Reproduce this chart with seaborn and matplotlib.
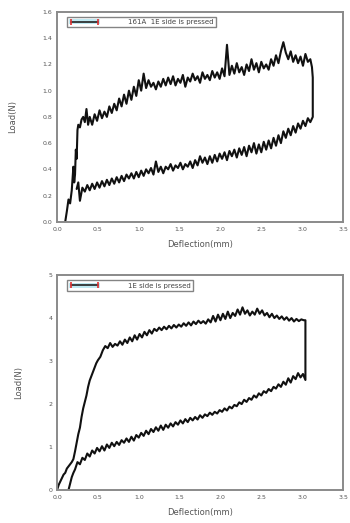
import seaborn as sns
import matplotlib.pyplot as plt
import pandas as pd
from matplotlib.patches import Patch
from matplotlib.lines import Line2D
from matplotlib.legend_handler import HandlerTuple
from matplotlib.ticker import MultipleLocator, FormatStrFormatter

# ---------------------------
# Top panel: loading branch
top_load_x = [0.10, 0.12, 0.14, 0.16, 0.18, 0.20, 0.21, 0.22, 0.23, 0.24, 0.25, 0.26, 0.28,
              0.30, 0.32, 0.34, 0.36, 0.38,
              0.40, 0.43, 0.46, 0.49, 0.52, 0.55, 0.58, 0.61, 0.64, 0.67, 0.70, 0.73, 0.76,
              0.79, 0.82, 0.85, 0.88, 0.91, 0.94, 0.97, 1.00, 1.03, 1.06, 1.09, 1.12, 1.15,
              1.18, 1.21, 1.24, 1.27, 1.30, 1.33, 1.36, 1.39, 1.42, 1.45, 1.48, 1.51, 1.54,
              1.57, 1.60, 1.63, 1.66, 1.69, 1.72, 1.75, 1.78, 1.81, 1.84, 1.87, 1.90, 1.93,
              1.96, 1.99, 2.02, 2.05, 2.08, 2.11, 2.14, 2.17, 2.20, 2.23, 2.26, 2.29, 2.32,
              2.35, 2.38, 2.41, 2.44, 2.47, 2.50, 2.53, 2.56, 2.59, 2.62, 2.65, 2.68, 2.71,
              2.74, 2.77, 2.80, 2.83, 2.86, 2.89, 2.92, 2.95, 2.98, 3.01, 3.04, 3.07, 3.10,
              3.12, 3.13]
top_load_y = [0.00, 0.08, 0.17, 0.14, 0.24, 0.42, 0.30, 0.36, 0.55, 0.48, 0.70, 0.74, 0.72,
              0.78, 0.80, 0.76, 0.86, 0.74,
              0.80, 0.74, 0.82, 0.77, 0.85, 0.79, 0.84, 0.80, 0.88, 0.83, 0.90, 0.85, 0.94,
              0.88, 0.97, 0.90, 1.00, 0.93, 1.03, 0.96, 1.08, 1.00, 1.13, 1.02, 1.08, 1.03,
              1.06, 1.01, 1.07, 1.03, 1.09, 1.04, 1.10, 1.05, 1.11, 1.04, 1.09, 1.06, 1.12,
              1.03, 1.10, 1.07, 1.13, 1.08, 1.11, 1.06, 1.14, 1.09, 1.12, 1.08, 1.15, 1.10,
              1.14, 1.09, 1.17, 1.11, 1.35, 1.12, 1.19, 1.13, 1.21, 1.14, 1.18, 1.12, 1.20,
              1.15, 1.24, 1.16, 1.21, 1.14, 1.22, 1.17, 1.20, 1.16, 1.24, 1.19, 1.27, 1.21,
              1.30, 1.37, 1.29, 1.24, 1.30, 1.22, 1.27, 1.21, 1.26, 1.19, 1.28, 1.22, 1.24,
              1.18, 1.10]

# Top panel: unloading branch
top_unload_x = [3.13, 3.10, 3.07, 3.04, 3.01, 2.98, 2.95, 2.92, 2.89, 2.86, 2.83, 2.80, 2.77,
                2.74, 2.71, 2.68, 2.65, 2.62, 2.59, 2.56, 2.53, 2.50, 2.47, 2.44, 2.41, 2.38,
                2.35, 2.32, 2.29, 2.26, 2.23, 2.20, 2.17, 2.14, 2.11, 2.08, 2.05, 2.02, 1.99,
                1.96, 1.93, 1.90, 1.87, 1.84, 1.81, 1.78, 1.75, 1.72, 1.69, 1.66, 1.63, 1.60,
                1.57, 1.54, 1.51, 1.48, 1.45, 1.42, 1.39, 1.36, 1.33, 1.30, 1.27, 1.24, 1.21,
                1.18, 1.15, 1.12, 1.09, 1.06, 1.03, 1.00, 0.97, 0.94, 0.91, 0.88, 0.85, 0.82,
                0.79, 0.76, 0.73, 0.70, 0.67, 0.64, 0.61, 0.58, 0.55, 0.52, 0.49, 0.46, 0.43,
                0.40, 0.37, 0.34, 0.31, 0.28, 0.26, 0.24]
top_unload_y = [0.80, 0.76, 0.79, 0.73, 0.77, 0.71, 0.75, 0.68, 0.73, 0.66, 0.71, 0.64, 0.69,
                0.60, 0.66, 0.58, 0.64, 0.56, 0.62, 0.55, 0.61, 0.53, 0.59, 0.52, 0.60, 0.53,
                0.58, 0.50, 0.57, 0.51, 0.56, 0.49, 0.55, 0.50, 0.54, 0.47, 0.53, 0.48, 0.52,
                0.46, 0.51, 0.45, 0.50, 0.44, 0.49, 0.45, 0.50, 0.43, 0.47, 0.41, 0.46, 0.42,
                0.44, 0.40, 0.45, 0.41, 0.43, 0.39, 0.44, 0.40, 0.42, 0.37, 0.42, 0.38, 0.46,
                0.36, 0.41, 0.37, 0.40, 0.35, 0.39, 0.34, 0.38, 0.33, 0.37, 0.33, 0.36, 0.31,
                0.35, 0.30, 0.34, 0.29, 0.33, 0.28, 0.32, 0.27, 0.31, 0.26, 0.30, 0.25, 0.29,
                0.24, 0.28, 0.23, 0.26, 0.16, 0.30, 0.25]

# ---------------------------
# Bottom panel: loading branch
bot_load_x = [0.00, 0.02, 0.04, 0.06, 0.08, 0.10, 0.12, 0.14, 0.16, 0.18, 0.20, 0.22, 0.24,
              0.26, 0.28, 0.30, 0.32, 0.34, 0.36, 0.38, 0.40, 0.42, 0.44, 0.46, 0.48, 0.50,
              0.53, 0.56, 0.59, 0.62, 0.65, 0.68, 0.71, 0.74, 0.77, 0.80, 0.83, 0.86, 0.89,
              0.92, 0.95, 0.98, 1.01, 1.04, 1.07, 1.10, 1.13, 1.16, 1.19, 1.22, 1.25, 1.28,
              1.31, 1.34, 1.37, 1.40, 1.43, 1.46, 1.49, 1.52, 1.55, 1.58, 1.61, 1.64, 1.67,
              1.70, 1.73, 1.76, 1.79, 1.82, 1.85, 1.88, 1.91, 1.94, 1.97, 2.00, 2.03, 2.06,
              2.09, 2.12, 2.15, 2.18, 2.21, 2.24, 2.27, 2.30, 2.33, 2.36, 2.39, 2.42, 2.45,
              2.48, 2.51, 2.54, 2.57, 2.60, 2.63, 2.66, 2.69, 2.72, 2.75, 2.78, 2.81, 2.84,
              2.87, 2.90, 2.93, 2.96, 2.99, 3.02, 3.04]
bot_load_y = [0.00, 0.12, 0.20, 0.28, 0.36, 0.40, 0.50, 0.55, 0.60, 0.65, 0.72, 0.90, 1.10,
              1.30, 1.45, 1.70, 1.90, 2.05, 2.20, 2.40, 2.55, 2.65, 2.75, 2.85, 2.95, 3.02,
              3.10, 3.25, 3.35, 3.30, 3.42, 3.33, 3.40, 3.36, 3.46, 3.38, 3.50, 3.42, 3.55,
              3.46, 3.60, 3.50, 3.63, 3.55, 3.68, 3.60, 3.72, 3.64, 3.75, 3.70, 3.78, 3.72,
              3.80, 3.74, 3.82, 3.76, 3.84, 3.78, 3.85, 3.80, 3.88, 3.82, 3.90, 3.83, 3.92,
              3.86, 3.94, 3.88, 3.93, 3.87, 3.97, 3.90, 4.05, 3.92, 4.08, 3.95, 4.10, 3.98,
              4.15, 4.00, 4.12, 4.05, 4.20, 4.08, 4.25, 4.10, 4.18, 4.06, 4.15, 4.08, 4.22,
              4.10, 4.18, 4.06, 4.12, 4.02, 4.10, 4.00, 4.06, 3.98, 4.04, 3.96, 4.02, 3.94,
              4.00, 3.92, 3.98, 3.93, 3.97, 3.95, 3.95]

# Bottom panel: unloading branch
bot_unload_x = [3.04, 3.01, 2.98, 2.95, 2.92, 2.89, 2.86, 2.83, 2.80, 2.77, 2.74, 2.71, 2.68,
                2.65, 2.62, 2.59, 2.56, 2.53, 2.50, 2.47, 2.44, 2.41, 2.38, 2.35, 2.32, 2.29,
                2.26, 2.23, 2.20, 2.17, 2.14, 2.11, 2.08, 2.05, 2.02, 1.99, 1.96, 1.93, 1.90,
                1.87, 1.84, 1.81, 1.78, 1.75, 1.72, 1.69, 1.66, 1.63, 1.60, 1.57, 1.54, 1.51,
                1.48, 1.45, 1.42, 1.39, 1.36, 1.33, 1.30, 1.27, 1.24, 1.21, 1.18, 1.15, 1.12,
                1.09, 1.06, 1.03, 1.00, 0.97, 0.94, 0.91, 0.88, 0.85, 0.82, 0.79, 0.76, 0.73,
                0.70, 0.67, 0.64, 0.61, 0.58, 0.55, 0.52, 0.49, 0.46, 0.43, 0.40, 0.37, 0.34,
                0.31, 0.28, 0.25, 0.22, 0.20, 0.18, 0.16, 0.14]
bot_unload_y = [2.56, 2.70, 2.62, 2.72, 2.58, 2.65, 2.50, 2.60, 2.45, 2.52, 2.40, 2.46, 2.36,
                2.40, 2.30, 2.35, 2.26, 2.30, 2.20, 2.25, 2.15, 2.20, 2.10, 2.14, 2.05, 2.10,
                2.00, 2.04, 1.95, 1.98, 1.90, 1.94, 1.85, 1.90, 1.82, 1.86, 1.78, 1.82, 1.75,
                1.80, 1.72, 1.76, 1.68, 1.74, 1.64, 1.70, 1.62, 1.68, 1.58, 1.65, 1.55, 1.62,
                1.52, 1.58, 1.48, 1.55, 1.45, 1.52, 1.40, 1.50, 1.38, 1.46, 1.35, 1.42, 1.30,
                1.38, 1.26, 1.33, 1.22, 1.28, 1.15, 1.24, 1.12, 1.20, 1.10, 1.16, 1.05, 1.12,
                1.02, 1.10, 0.98, 1.06, 0.92, 1.02, 0.90, 0.98, 0.85, 0.92, 0.78, 0.85, 0.70,
                0.75, 0.60, 0.65, 0.48, 0.40, 0.30, 0.15, 0.00]

top_label = "161A  1E side is pressed"
bot_label = "1E side is pressed"

top_df = pd.DataFrame({'x': top_load_x + top_unload_x, 'y': top_load_y + top_unload_y})
bot_df = pd.DataFrame({'x': bot_load_x + bot_unload_x, 'y': bot_load_y + bot_unload_y})

sns.set_style("white")
plt.rcParams['font.family'] = ['DejaVu Sans']

fig = plt.figure(figsize=(3.5, 5.23), dpi=100)
ax1 = fig.add_axes([0.163, 0.576, 0.817, 0.401])
ax2 = fig.add_axes([0.163, 0.063, 0.817, 0.411])

edge = '#8a8a8a'


def style(ax, df, ymax, ystep, yfmt, label):
    sns.lineplot(data=df, x='x', y='y', sort=False, estimator=None,
                 color='#111111', linewidth=1.5, ax=ax)
    ax.set_xlim(0, 3.5)
    ax.set_ylim(0, ymax)
    ax.xaxis.set_major_locator(MultipleLocator(0.5))
    ax.xaxis.set_minor_locator(MultipleLocator(0.25))
    ax.yaxis.set_major_locator(MultipleLocator(ystep))
    ax.yaxis.set_minor_locator(MultipleLocator(ystep / 2))
    ax.xaxis.set_major_formatter(FormatStrFormatter('%.1f'))
    ax.yaxis.set_major_formatter(FormatStrFormatter(yfmt))
    ax.tick_params(which='both', direction='in', colors=edge, labelcolor='#555555',
                   labelsize=4.5, length=3, width=0.8)
    ax.tick_params(which='minor', length=1.8)
    for s in ax.spines.values():
        s.set_color(edge)
        s.set_linewidth(1.4)
    ax.set_xlabel("Deflection(mm)", fontsize=6, color='#555555', labelpad=6)
    ax.set_ylabel("Load(N)", fontsize=6, color='#555555', labelpad=18)

    handle = (Patch(facecolor='#bfe9f2', edgecolor='none'),
              Line2D([], [], color='#222222', linewidth=1.2),
              Line2D([], [], color='#e03030', linestyle='none', marker='|',
                     markersize=5, markeredgewidth=1.2))
    leg = ax.legend([handle], [label], loc='upper left', bbox_to_anchor=(0.035, 0.975),
                    handler_map={tuple: HandlerTuple(ndivide=1)}, numpoints=2,
                    handlelength=4.5, handletextpad=4.0, fontsize=5, frameon=True,
                    fancybox=False, borderpad=0.3, borderaxespad=0)
    leg.get_frame().set_edgecolor('#666666')
    leg.get_frame().set_linewidth(1.0)
    for t in leg.get_texts():
        t.set_color('#444444')


style(ax1, top_df, 1.6, 0.2, '%.1f', top_label)
style(ax2, bot_df, 5, 1, '%d', bot_label)

fig.savefig("out.png", dpi=100)
